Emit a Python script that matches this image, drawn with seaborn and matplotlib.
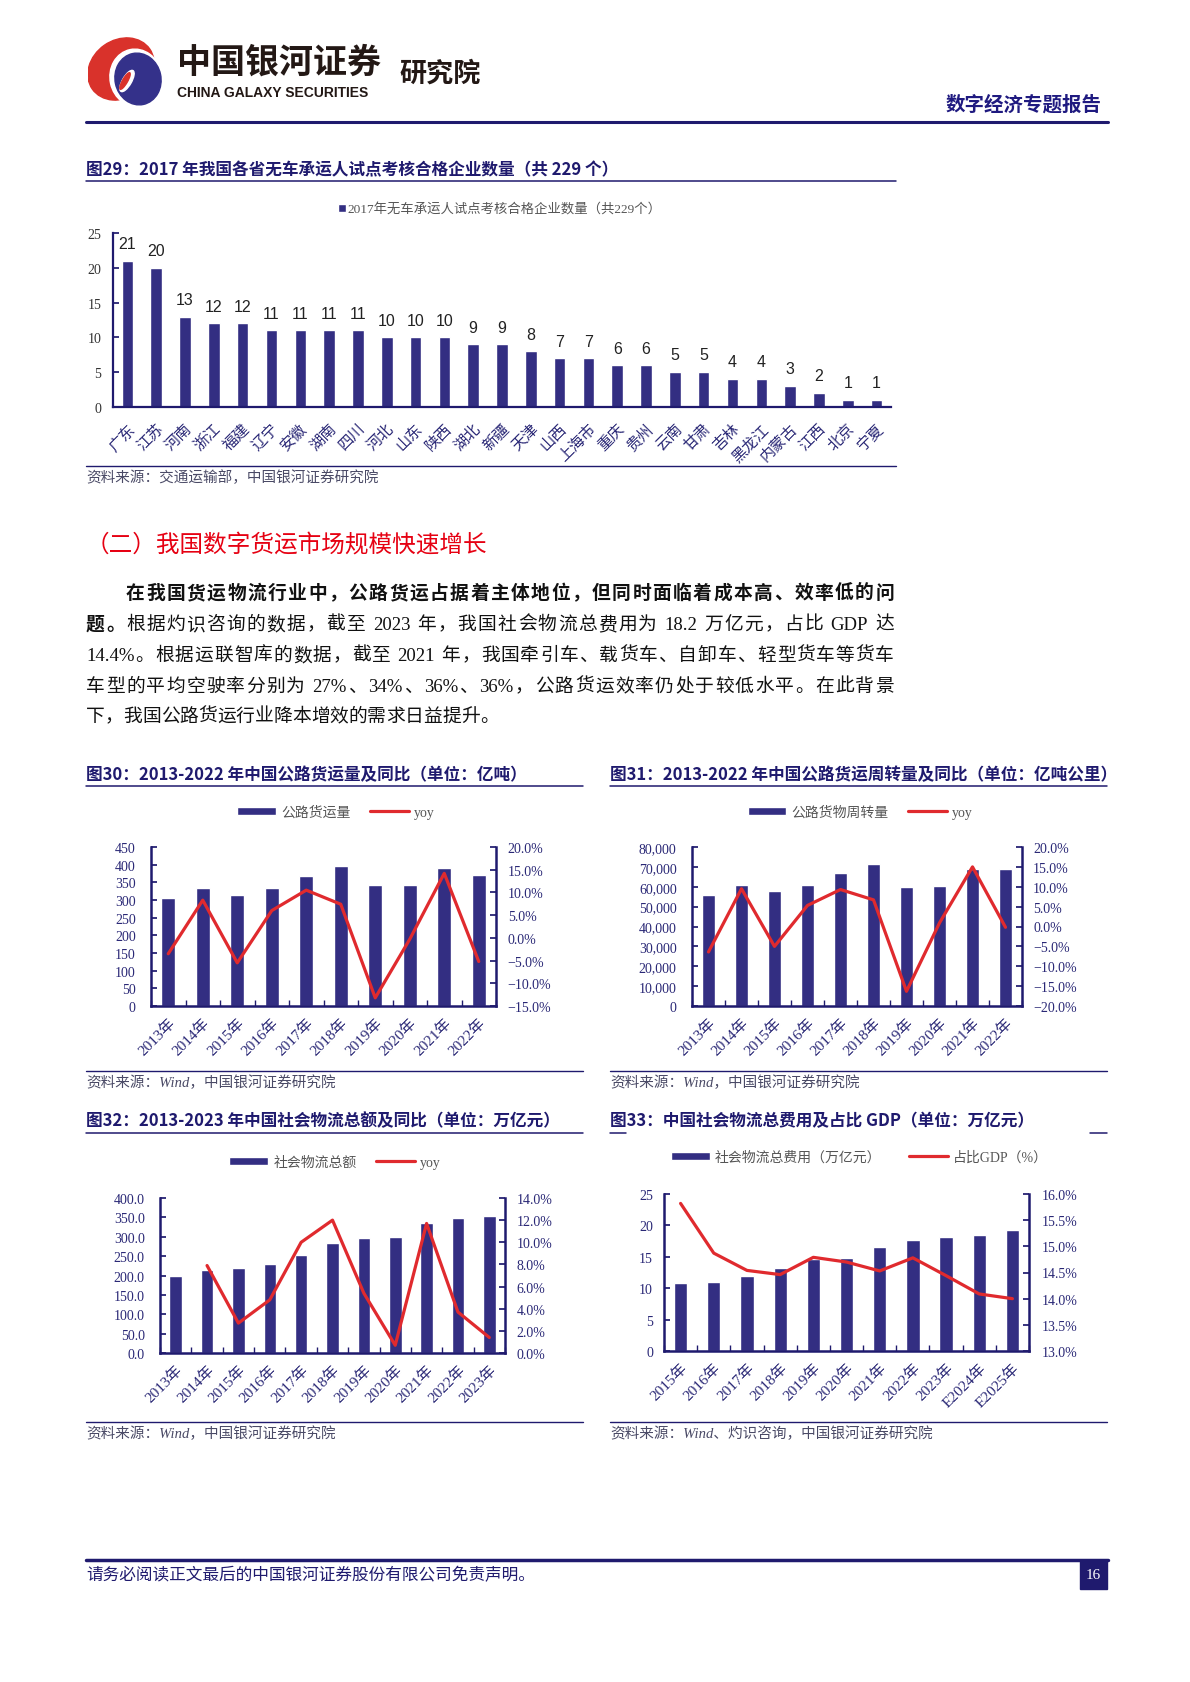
import re
import numpy as np
import pandas as pd
import matplotlib.pyplot as plt
import seaborn as sns
from matplotlib.lines import Line2D
from matplotlib.patches import Patch, Ellipse, Rectangle
from matplotlib.ticker import FuncFormatter, MultipleLocator

# ---------------- data ----------------
provinces = ['广东', '江苏', '河南', '浙江', '福建', '辽宁', '安徽', '湖南', '四川', '河北',
             '山东', '陕西', '湖北', '新疆', '天津', '山西', '上海市', '重庆', '贵州', '云南',
             '甘肃', '吉林', '黑龙江', '内蒙古', '江西', '北京', '宁夏']
province_cnt = [21, 20, 13, 12, 12, 11, 11, 11, 11, 10, 10, 10, 9, 9, 8, 7, 7, 6, 6, 5,
                5, 4, 4, 3, 2, 1, 1]

years_13_22 = ['2013年', '2014年', '2015年', '2016年', '2017年', '2018年', '2019年',
               '2020年', '2021年', '2022年']
freight_vol = [307, 334, 315, 334, 368, 396, 343, 342, 391, 371]
freight_vol_yoy = [-3.5, 8.3, -5.5, 6.0, 10.5, 7.4, -13.2, -0.3, 14.2, -5.2]

freight_turnover = [55738, 61017, 57956, 61080, 66772, 71249, 59636, 60172, 69088, 68958]
freight_turnover_yoy = [-6.4, 9.5, -5.0, 5.3, 9.3, 6.7, -16.3, 0.9, 15.0, -0.2]

years_13_23 = years_13_22 + ['2023年']
logistics_total = [197.8, 213.5, 219.2, 229.7, 252.8, 283.1, 298.0, 300.1, 335.2, 347.6, 352.4]
logistics_total_yoy = [np.nan, 7.9, 2.7, 4.8, 10.0, 12.0, 5.4, 0.7, 11.7, 3.7, 1.4]

years_15_25 = ['2015年', '2016年', '2017年', '2018年', '2019年', '2020年', '2021年',
               '2022年', '2023年', 'E2024年', 'E2025年']
logistics_cost = [10.8, 11.0, 12.0, 13.2, 14.6, 14.8, 16.6, 17.7, 18.1, 18.4, 19.2]
cost_gdp_ratio = [15.82, 14.87, 14.54, 14.46, 14.79, 14.70, 14.53, 14.78, 14.44, 14.09, 14.0]

# ---------------- style ----------------
sns.set_theme(style='white')
SERIF = ['Liberation Serif', 'Noto Sans CJK SC']
SANS = ['Noto Sans CJK SC', 'DejaVu Sans']
plt.rcParams['font.family'] = SERIF

NAVY = '#1F1A6E'
BAR = '#332E82'
RED = '#E02A2E'
TICK = '#2A2876'
GREY = '#555555'
SRC = '#4A4A66'

W, H = 1190, 1683
fig = plt.figure(figsize=(W / 100, H / 100), dpi=100)


def box(x0, y0, x1, y1):
    return [x0 / W, 1 - y1 / H, (x1 - x0) / W, (y1 - y0) / H]


def hline(x0, x1, y, lw=1.1, color=NAVY):
    fig.add_artist(Line2D([x0 / W, x1 / W], [1 - y / H, 1 - y / H], color=color, lw=lw))


def ftext(x, y, s, **kw):
    return fig.text(x / W, 1 - y / H, s, **kw)


def justify(segs, x0, x1, y, size, stretch=True):
    # 按字符分散对齐（两端对齐），空格给固定宽度
    r = fig.canvas.get_renderer()
    toks = []
    for s, w in segs:
        for t in re.findall(r'[0-9A-Za-z.%]+| |\S', s):
            toks.append((t, w))
    widths = []
    for t, w in toks:
        if t == ' ':
            widths.append(size * 100 / 72 * 0.25)
            continue
        tt = fig.text(0, 0, t, fontsize=size, weight=w, family=SERIF)
        widths.append(tt.get_window_extent(r).width)
        tt.remove()
    gap = (x1 - x0 - sum(widths)) / (len(toks) - 1) if stretch else 0
    x = x0
    for (t, w), wd in zip(toks, widths):
        if t != ' ':
            ftext(x, y, t, fontsize=size, weight=w, family=SERIF, va='baseline', color='#111111')
        x += wd + gap


def chart_title(x, y, s):
    ftext(x, y, s, fontsize=12, weight='bold', family=SANS, color=NAVY, va='center')


def source(x0, x1, y, s):
    hline(x0, x1, y - 11, lw=1.0)
    ftext(x0, y, s, fontsize=10.5, style='italic', family=SERIF, color=SRC, va='center')


def style_x(ax, cats, pad=7, size=11):
    n = len(cats)
    ax.set_xlim(-0.5, n - 0.5)
    ax.set_xticks(range(n))
    ax.set_xticklabels(cats, rotation=45, ha='right', va='top', rotation_mode='anchor',
                       fontsize=size, color=TICK)
    ax.set_xticks(np.arange(n + 1) - 0.5, minor=True)
    ax.tick_params(axis='x', which='major', length=0, pad=pad)
    ax.tick_params(axis='x', which='minor', length=4, direction='in', color=NAVY, bottom=True)
    ax.set_xlabel('')


def pct(v, p):
    v = round(v, 4) + 0.0
    return f'{v:.1f}%'.replace('-', '\u2212')


def combo(b, cats, bars, line, bname, lname, blim, bstep, bfmt, llim, lstep,
          leg_xy, colsp=1.4, lpad=11, rpad=8.5):
    ax = fig.add_axes(box(*b))
    df = pd.DataFrame({'cat': cats, 'val': bars, 'pos': np.arange(len(cats)), 'yoy': line})
    sns.barplot(data=df, x='cat', y='val', color=BAR, saturation=1, width=0.4, ax=ax)
    ax2 = ax.twinx()
    sns.lineplot(data=df.dropna(), x='pos', y='yoy', color=RED, lw=2.3, ax=ax2)
    style_x(ax, cats)
    ax.set_ylim(*blim)
    ax.yaxis.set_major_locator(MultipleLocator(bstep))
    ax.yaxis.set_major_formatter(FuncFormatter(bfmt))
    ax2.set_ylim(*llim)
    ax2.yaxis.set_major_locator(MultipleLocator(lstep))
    ax2.yaxis.set_major_formatter(FuncFormatter(pct))
    ax.set_ylabel('')
    ax2.set_ylabel('')
    ax2.set_xlabel('')
    for s in ['top', 'right']:
        ax.spines[s].set_visible(False)
    for s in ['top', 'left', 'bottom']:
        ax2.spines[s].set_visible(False)
    for sp in [ax.spines['left'], ax.spines['bottom'], ax2.spines['right']]:
        sp.set_color(NAVY)
        sp.set_linewidth(1.8)
    ax.tick_params(axis='y', direction='in', length=4, color=NAVY, labelcolor=TICK,
                   labelsize=10, pad=lpad, left=True)
    ax2.tick_params(axis='y', direction='in', length=4, color=NAVY, labelcolor=TICK,
                    labelsize=10, pad=rpad, right=True)
    ax.legend(handles=[Patch(facecolor=BAR, label=bname),
                       Line2D([], [], color=RED, lw=2.3, label=lname)],
              loc='center', bbox_to_anchor=(leg_xy[0] / W, 1 - leg_xy[1] / H),
              bbox_transform=fig.transFigure, ncol=2, frameon=False, fontsize=10,
              handlelength=2.8, handleheight=0.5, handletextpad=0.35, columnspacing=colsp,
              labelcolor=GREY)
    return ax, ax2


# ---------------- header ----------------
# 银河证券 logo（红色月牙 + 蓝色半圆）
la = fig.add_axes(box(88, 36, 164, 108))
la.set_xlim(0, 76)
la.set_ylim(0, 72)
la.axis('off')
la.add_patch(Ellipse((33, 38), 70, 58, angle=35, color='#D9322B'))
la.add_patch(Ellipse((48, 29), 52, 58, angle=12, color='white'))
la.add_patch(Ellipse((50, 28), 46, 52, angle=12, color='#34318A'))
la.add_patch(Ellipse((39, 26), 9, 24, angle=-30, color='white'))
la.add_patch(Ellipse((37, 26), 5, 19, angle=-30, color='#D9322B'))

ftext(177, 62, '中国银河证券', fontsize=24.5, weight='bold', family=SANS, color='#231815', va='center')
ftext(177, 93, 'CHINA GALAXY SECURITIES', fontsize=10, weight='bold',
      family=['Liberation Sans', 'DejaVu Sans'], color='#231815', va='center')
ftext(399, 74, '研究院', fontsize=19.5, weight='bold', family=SANS, color='#231815', va='center')
ftext(1102, 105, '数字经济专题报告', fontsize=14, weight='bold', family=SANS, color='#1F1A80',
      va='center', ha='right')
hline(86, 1108, 123, lw=2.2)

# ---------------- 图29 ----------------
chart_title(86, 170, '图29：2017 年我国各省无车承运人试点考核合格企业数量（共 229 个）')
hline(86, 896, 182)
ax = fig.add_axes(box(113, 234, 891, 408))
df29 = pd.DataFrame({'省份': provinces, '数量': province_cnt})
sns.barplot(data=df29, x='省份', y='数量', color=BAR, saturation=1, width=0.4, ax=ax)
ax.bar_label(ax.containers[0], fmt='{:.0f}', padding=7, fontsize=11.5,
             family=['Liberation Sans', 'DejaVu Sans'], color='#222222')
style_x(ax, provinces, pad=10, size=11)
ax.tick_params(axis='x', which='minor', length=0)
ax.set_ylim(0, 25)
ax.yaxis.set_major_locator(MultipleLocator(5))
ax.tick_params(axis='y', direction='in', length=4, color=NAVY, labelcolor='#333333',
               labelsize=10, pad=8.5, left=True)
ax.set_ylabel('')
for s in ['top', 'right']:
    ax.spines[s].set_visible(False)
for s in ['left', 'bottom']:
    ax.spines[s].set_color(NAVY)
    ax.spines[s].set_linewidth(1.6)
ax.legend(handles=[Patch(facecolor=BAR, label='2017年无车承运人试点考核合格企业数量（共229个）')],
          loc='center', bbox_to_anchor=(500 / W, 1 - 210 / H), bbox_transform=fig.transFigure,
          frameon=False, fontsize=9.6, handlelength=0.55, handleheight=0.55, handletextpad=0.15,
          labelcolor=GREY)
source(86, 896, 478, '资料来源：交通运输部，中国银河证券研究院')

# ---------------- 正文 ----------------
ftext(86, 545, '（二）我国数字货运市场规模快速增长', fontsize=17, family=SANS, color='#E60012',
      va='center')
FS = 13.5
justify([('在我国货运物流行业中，公路货运占据着主体地位，但同时面临着成本高、效率低的问', 'bold')],
        126, 894, 599, FS)
justify([('题。', 'bold'), ('根据灼识咨询的数据，截至 2023 年，我国社会物流总费用为 18.2 万亿元，占比 GDP 达', 'normal')],
        86, 894, 630, FS)
justify([('14.4%。根据运联智库的数据，截至 2021 年，我国牵引车、载货车、自卸车、轻型货车等货车', 'normal')],
        86, 894, 661, FS)
justify([('车型的平均空驶率分别为 27%、34%、36%、36%，公路货运效率仍处于较低水平。在此背景', 'normal')],
        86, 894, 692, FS)
justify([('下，我国公路货运行业降本增效的需求日益提升。', 'normal')], 86, 894, 722, FS, stretch=False)

# ---------------- 图30 ----------------
chart_title(86, 775, '图30：2013-2022 年中国公路货运量及同比（单位：亿吨）')
hline(86, 583, 787)
combo((151, 848, 496, 1007), years_13_22, freight_vol, freight_vol_yoy, '公路货运量', 'yoy',
      (0, 450), 50, lambda v, p: f'{v:.0f}', (-15, 20), 5, (336, 813))
source(86, 583, 1083, '资料来源：Wind，中国银河证券研究院')

# ---------------- 图31 ----------------
chart_title(610, 775, '图31：2013-2022 年中国公路货运周转量及同比（单位：亿吨公里）')
hline(610, 1107, 787)
combo((692, 848, 1022, 1007), years_13_22, freight_turnover, freight_turnover_yoy,
      '公路货物周转量', 'yoy', (0, 80000), 10000, lambda v, p: f'{v:,.0f}',
      (-20, 20), 5, (860, 813), rpad=8)
source(610, 1107, 1083, '资料来源：Wind，中国银河证券研究院')

# ---------------- 图32 ----------------
chart_title(86, 1121, '图32：2013-2023 年中国社会物流总额及同比（单位：万亿元）')
hline(86, 583, 1134)
combo((160, 1199, 505, 1354), years_13_23, logistics_total, logistics_total_yoy,
      '社会物流总额', 'yoy', (0, 400), 50, lambda v, p: f'{v:.1f}',
      (0, 14), 2, (335, 1163))
source(86, 583, 1434, '资料来源：Wind，中国银河证券研究院')

# ---------------- 图33 ----------------
chart_title(610, 1121, '图33：中国社会物流总费用及占比 GDP（单位：万亿元）')
hline(610, 626, 1134)
hline(1090, 1107, 1134)
combo((664, 1195, 1029, 1352), years_15_25, logistics_cost, cost_gdp_ratio,
      '社会物流总费用（万亿元）', '占比GDP（%）', (0, 25), 5, lambda v, p: f'{v:.0f}',
      (13, 16), 0.5, (859, 1158), colsp=2.0, lpad=8, rpad=9)
source(610, 1107, 1434, '资料来源：Wind、灼识咨询，中国银河证券研究院')

# ---------------- footer ----------------
hline(86, 1108, 1561, lw=2.5)
ftext(86, 1576, '请务必阅读正文最后的中国银河证券股份有限公司免责声明。', fontsize=12,
      family=SERIF, color=NAVY, va='center')
fig.add_artist(Rectangle((1080 / W, 1 - 1590 / H), 27 / W, 29 / H, transform=fig.transFigure,
                         color=NAVY))
ftext(1093.5, 1576, '16', fontsize=11, family=SERIF, color='white', ha='center', va='center')

plt.savefig('out.png', dpi=100)
